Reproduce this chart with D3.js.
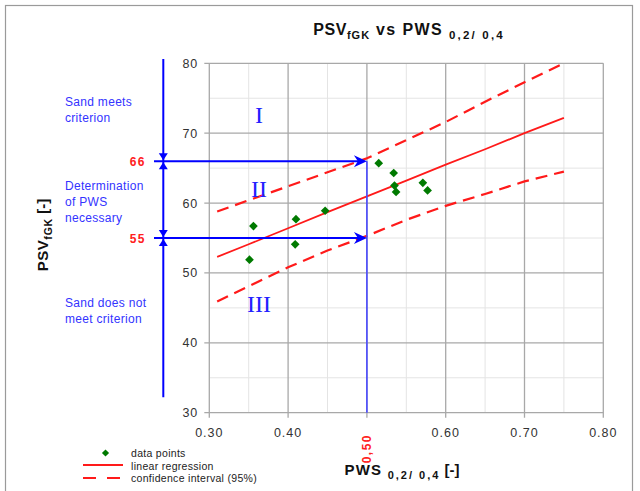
<!DOCTYPE html>
<head>
    <meta charset="utf-8">
    <script src="https://d3js.org/d3.v7.min.js"></script>
    <style>
        body { margin:0; background:#fff; }
        text { font-family: 'Liberation Sans', Arial, sans-serif; }
        .grid-major { stroke: #a8a8a8; stroke-width: 1.3; }
        .grid-minor { stroke: #e4e4e4; stroke-width: 1; }
        .tick-label { font-size: 12.5px; fill: #333; letter-spacing: 1px; }
        .note { font-size: 12px; fill: #3333ff; letter-spacing: 0.3px; }
        .level { font-size: 12px; fill: #ff2020; font-weight: bold; letter-spacing: 1.5px; }
        .roman { font-family: 'Liberation Serif', 'DejaVu Serif', serif; font-size: 24px; fill: #2222ff; }
        .legend { font-size: 10.5px; fill: #222; letter-spacing: 0.3px; }
        .title { font-weight: bold; fill: #111; }
    </style>
</head>

<body>
  <script>
    // data points
    const pws = [0.351, 0.356, 0.410, 0.409, 0.447, 0.515, 0.534, 0.535, 0.537, 0.571, 0.577];
    const psv = [51.9, 56.7, 57.7, 54.1, 58.9, 65.7, 64.3, 62.5, 61.6, 62.9, 61.8];

    // regression and 95% confidence band, read at these x positions
    const lineX      = [0.31, 0.35, 0.40, 0.45, 0.50, 0.55, 0.60, 0.65, 0.70, 0.75];
    const regression = [52.3, 54.1, 56.4, 58.7, 60.95, 63.2, 65.5, 67.7, 70.0, 72.2];
    const upperCI    = [58.8, 60.4, 62.4, 64.4, 66.4, 69.0, 71.6, 74.5, 77.3, 80.0];
    const lowerCI    = [45.9, 48.1, 50.8, 53.2, 55.3, 57.6, 59.6, 61.3, 63.1, 64.5];

    const xTicks = [0.3, 0.4, 0.6, 0.7, 0.8];
    const xTickLabels = ['0.30', '0.40', '0.60', '0.70', '0.80'];
    const yTicks = [30, 40, 50, 60, 70, 80];
    const limits = [66, 55];
    const limitX = 0.5;

    const width = 640, height = 491;
    const plot = {left: 209.3, right: 603.3, top: 63.3, bottom: 412.7};

    const x = d3.scaleLinear().domain([0.3, 0.8]).range([plot.left, plot.right]);
    const y = d3.scaleLinear().domain([30, 80]).range([plot.bottom, plot.top]);

    const svg = d3.select('body').append('svg')
        .attr('width', width)
        .attr('height', height);

    // outer frame
    svg.append('rect')
        .attr('x', 5.5).attr('y', 5.5)
        .attr('width', 627).attr('height', 495)
        .attr('fill', 'none').attr('stroke', '#9a9a9a').attr('stroke-width', 1.2);

    // grid
    const grid = svg.append('g');
    const xMinor = d3.range(0.35, 0.8, 0.1);
    const yMinor = d3.range(35, 80, 10);
    grid.selectAll('.vx').data(xMinor).enter().append('line')
        .attr('class', 'grid-minor')
        .attr('x1', d => x(d)).attr('x2', d => x(d)).attr('y1', plot.top).attr('y2', plot.bottom);
    grid.selectAll('.hy').data(yMinor).enter().append('line')
        .attr('class', 'grid-minor')
        .attr('y1', d => y(d)).attr('y2', d => y(d)).attr('x1', plot.left).attr('x2', plot.right);
    grid.selectAll('.vX').data(x.ticks(5)).enter().append('line')
        .attr('class', 'grid-major')
        .attr('x1', d => x(d)).attr('x2', d => x(d)).attr('y1', plot.top).attr('y2', plot.bottom + 5);
    grid.selectAll('.hY').data(yTicks).enter().append('line')
        .attr('class', 'grid-major')
        .attr('y1', d => y(d)).attr('y2', d => y(d)).attr('x1', plot.left - 5).attr('x2', plot.right);

    // tick labels
    svg.selectAll('.ylab').data(yTicks).enter().append('text')
        .attr('class', 'tick-label')
        .attr('x', plot.left - 11)
        .attr('y', d => y(d) + 4.5)
        .attr('text-anchor', 'end')
        .text(d => d);
    svg.selectAll('.xlab').data(xTicks).enter().append('text')
        .attr('class', 'tick-label')
        .attr('x', d => x(d))
        .attr('y', plot.bottom + 24)
        .attr('text-anchor', 'middle')
        .text((d, i) => xTickLabels[i]);

    svg.append('text')
        .attr('class', 'level')
        .attr('transform', `translate(${x(limitX) + 4.5},${plot.bottom + 36}) rotate(-90)`)
        .attr('text-anchor', 'middle')
        .text('0,50');

    // curves
    const pts = ys => lineX.map((v, i) => [x(v), y(ys[i])]);
    const line = d3.line();
    svg.append('path').attr('d', line(pts(regression)))
        .attr('fill', 'none').attr('stroke', '#ff1a1a').attr('stroke-width', 1.8);
    [upperCI, lowerCI].forEach(s => {
        svg.append('path').attr('d', line(pts(s)))
            .attr('fill', 'none').attr('stroke', '#ff1a1a').attr('stroke-width', 2.2)
            .attr('stroke-dasharray', '12,7');
    });

    // annotation arrows
    const blue = '#0000ff';
    const ann = svg.append('g');
    const vx = 163.3;
    ann.append('line')
        .attr('x1', vx).attr('x2', vx).attr('y1', y(80.6)).attr('y2', y(32.2))
        .attr('stroke', blue).attr('stroke-width', 2);
    ann.append('line')
        .attr('x1', x(limitX)).attr('x2', x(limitX)).attr('y1', y(limits[0])).attr('y2', plot.bottom)
        .attr('stroke', '#4a4aff').attr('stroke-width', 1.6);

    limits.forEach(v => {
        const ly = y(v);
        ann.append('line')
            .attr('x1', 154).attr('x2', x(limitX) - 4).attr('y1', ly).attr('y2', ly)
            .attr('stroke', blue).attr('stroke-width', 2);
        ann.append('path')
            .attr('d', 'M0,0 L-13,-6 L-9,0 L-13,6 Z')
            .attr('transform', `translate(${x(limitX)},${ly})`)
            .attr('fill', blue);
        ann.append('path')
            .attr('d', 'M0,-1 L-4.5,-8 L4.5,-8 Z')
            .attr('transform', `translate(${vx},${ly})`)
            .attr('fill', blue);
        ann.append('path')
            .attr('d', 'M0,1 L-4.5,8 L4.5,8 Z')
            .attr('transform', `translate(${vx},${ly})`)
            .attr('fill', blue);
        ann.append('text')
            .attr('class', 'level')
            .attr('x', 146).attr('y', ly + 4.5)
            .attr('text-anchor', 'end')
            .text(v);
    });

    const notes = [
        {lines: ['Sand meets', 'criterion'], y: 106},
        {lines: ['Determination', 'of PWS', 'necessary'], y: 190},
        {lines: ['Sand does not', 'meet criterion'], y: 307}
    ];
    notes.forEach(n => {
        const t = svg.append('text').attr('class', 'note').attr('x', 65).attr('y', n.y);
        n.lines.forEach((l, i) => t.append('tspan').attr('x', 65).attr('dy', i ? 16 : 0).text(l));
    });

    const romans = [
        {t: 'I', x: 0.363, y: 71.5},
        {t: 'II', x: 0.363, y: 60.8},
        {t: 'III', x: 0.363, y: 44.4}
    ];
    svg.selectAll('.roman').data(romans).enter().append('text')
        .attr('class', 'roman')
        .attr('x', d => x(d.x)).attr('y', d => y(d.y))
        .attr('text-anchor', 'middle')
        .text(d => d.t);

    // data points
    svg.selectAll('.pt').data(pws).enter().append('path')
        .attr('d', d3.symbol(d3.symbolSquare, 38))
        .attr('transform', (d, i) => `translate(${x(d)},${y(psv[i])}) rotate(45)`)
        .attr('fill', '#007a00');

    // titles
    const title = svg.append('text').attr('class', 'title')
        .attr('x', 409).attr('y', 35).attr('text-anchor', 'middle').style('font-size', '16px');
    title.append('tspan').text('PSV').attr('letter-spacing', 0.6);
    title.append('tspan').text('fGK').style('font-size', '11px').attr('dy', 4).attr('letter-spacing', 1);
    title.append('tspan').text(' vs PWS ').attr('dy', -4).attr('letter-spacing', 1.4);
    title.append('tspan').text('0,2/ 0,4').style('font-size', '11.5px').attr('dy', 4).attr('letter-spacing', 2.2);

    const xTitle = svg.append('text').attr('class', 'title')
        .attr('x', 402).attr('y', 475).attr('text-anchor', 'middle').style('font-size', '15px');
    xTitle.append('tspan').text('PWS ').attr('letter-spacing', 1.2);
    xTitle.append('tspan').text('0,2/ 0,4').style('font-size', '11px').attr('dy', 4).attr('letter-spacing', 2);
    xTitle.append('tspan').text(' [-]').attr('dy', -4);

    const yTitle = svg.append('text').attr('class', 'title')
        .attr('transform', `translate(48,${(plot.top + plot.bottom) / 2 - 3}) rotate(-90)`)
        .attr('text-anchor', 'middle').style('font-size', '15px');
    yTitle.append('tspan').text('PSV').attr('letter-spacing', 0.5);
    yTitle.append('tspan').text('fGK').style('font-size', '10.5px').attr('dy', 4).attr('letter-spacing', 0.8);
    yTitle.append('tspan').text(' [-]').attr('dy', -4);

    // legend
    const lg = svg.append('g');
    lg.append('path')
        .attr('d', d3.symbol(d3.symbolSquare, 26))
        .attr('transform', 'translate(105.5,453) rotate(45)')
        .attr('fill', '#007a00');
    lg.append('line').attr('x1', 83).attr('x2', 123).attr('y1', 465).attr('y2', 465)
        .attr('stroke', '#ff1a1a').attr('stroke-width', 2);
    lg.append('line').attr('x1', 83).attr('x2', 123).attr('y1', 478).attr('y2', 478)
        .attr('stroke', '#ff1a1a').attr('stroke-width', 2).attr('stroke-dasharray', '13,11');
    const legendText = ['data points', 'linear regression', 'confidence interval (95%)'];
    lg.selectAll('text').data(legendText).enter().append('text')
        .attr('class', 'legend')
        .attr('x', 131).attr('y', (d, i) => 457 + i * 12.5)
        .text(d => d);
  </script>
</body>
